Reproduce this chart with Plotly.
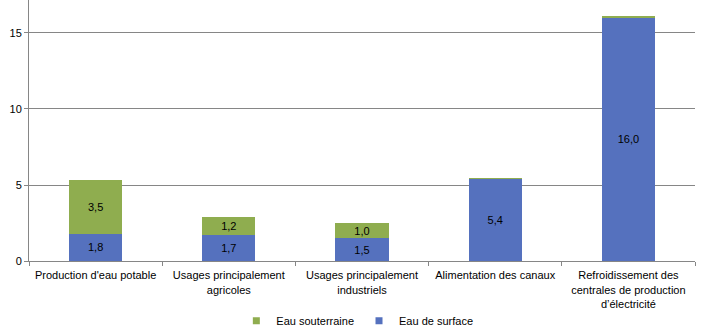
import plotly.graph_objects as go

categories = [
    "Production d'eau potable",
    "Usages principalement<br>agricoles",
    "Usages principalement<br>industriels",
    "Alimentation des canaux",
    "Refroidissement des<br>centrales de production<br>d’électricité",
]
eau_surface = [1.8, 1.7, 1.5, 5.4, 16.0]
eau_souterraine = [3.5, 1.2, 1.0, 0.06, 0.1]
y_ticks = [0, 5, 10, 15]

BLUE = "#5571BE"
GREEN = "#8FAD4F"
GRID = "#868686"
FONT = "Liberation Sans, Arial, sans-serif"


def labels(vals):
    return [("%.1f" % v).replace(".", ",") if v >= 0.5 else "" for v in vals]


fig = go.Figure()
fig.add_trace(go.Bar(
    x=categories, y=eau_surface, name="Eau de surface",
    marker=dict(color=BLUE, line=dict(width=0)),
    text=labels(eau_surface), textposition="inside", insidetextanchor="middle",
    textangle=0, constraintext="none",
    textfont=dict(color="black", size=11, family=FONT),
    hoverinfo="skip", showlegend=False,
))
fig.add_trace(go.Bar(
    x=categories, y=eau_souterraine, name="Eau souterraine",
    marker=dict(color=GREEN, line=dict(width=0)),
    text=labels(eau_souterraine), textposition="inside", insidetextanchor="middle",
    textangle=0, constraintext="none",
    textfont=dict(color="black", size=11, family=FONT),
    hoverinfo="skip", showlegend=False,
))
# legend entries with small square swatches
for name, color in [("Eau souterraine", GREEN), ("Eau de surface", BLUE)]:
    fig.add_trace(go.Scatter(
        x=[None], y=[None], mode="markers", name=name,
        marker=dict(symbol="square", size=7, color=color),
        hoverinfo="skip",
    ))

fig.update_layout(
    width=703, height=328,
    barmode="stack", bargap=0.6,
    margin=dict(l=29, r=8, t=0, b=67, autoexpand=False),
    plot_bgcolor="white", paper_bgcolor="white",
    font=dict(family=FONT, size=11, color="black"),
    showlegend=True,
    legend=dict(
        orientation="h", x=0.493, xanchor="center",
        yref="container", y=0.022, yanchor="middle",
        traceorder="normal",
        font=dict(size=11, family=FONT),
        itemwidth=30, tracegroupgap=0,
    ),
)
fig.update_xaxes(
    automargin=False,
    showline=True, linecolor=GRID, linewidth=1,
    ticks="outside", tickson="boundaries", ticklen=4, tickcolor=GRID,
    ticklabelstandoff=4,
    tickfont=dict(size=11, family=FONT, color="black"),
    showgrid=False,
)
fig.update_yaxes(
    automargin=False,
    range=[0, 17.17], tickvals=y_ticks,
    showline=True, linecolor=GRID, linewidth=1,
    ticks="outside", ticklen=4, tickcolor=GRID,
    showgrid=True, gridcolor=GRID, gridwidth=1,
    zeroline=False,
    tickfont=dict(size=11, family=FONT, color="black"),
)

fig.write_html("out.html")
